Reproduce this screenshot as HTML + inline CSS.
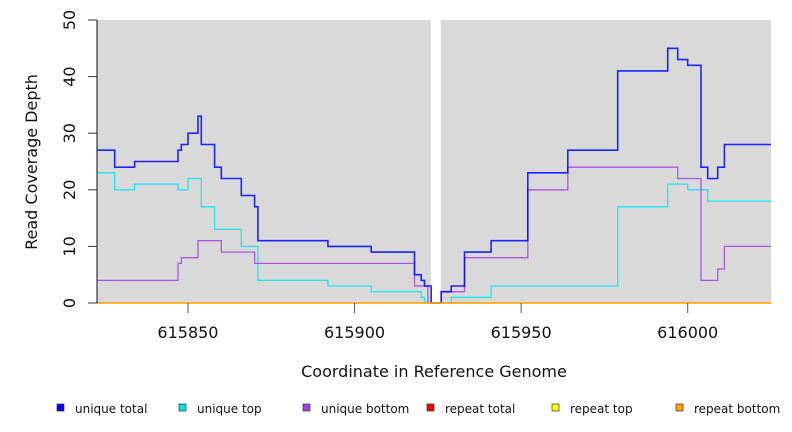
<!DOCTYPE html>
<html><head><meta charset="utf-8"><style>
body{margin:0;background:#fff;width:792px;height:432px;overflow:hidden}
svg{display:block;font-family:"DejaVu Sans","Liberation Sans",sans-serif}
</style></head><body>
<svg id="chart" width="792" height="432"></svg>
<script>
const xTicks=[615850,615900,615950,616000];
const yTicks=[0,10,20,30,40,50];
const gapRange=[615922.9,615925.9];
const seriesNames=["unique total","unique top","unique bottom","repeat total","repeat top","repeat bottom"];
const seriesColors=["#0000ff","#00e5ee","#a040e0","#ff0000","#ffff00","#ffa500"];
// step series: [start coordinate, value]
const uniqueTotal=[[615822.7,27],[615828,24],[615834,25],[615847,27],[615848,28],[615850,30],[615853,33],[615854,28],[615858,24],[615860,22],[615866,19],[615870,17],[615871,11],[615892,10],[615905,9],[615918,5],[615920,4],[615921,3],[615923,0],[615926,2],[615929,3],[615933,9],[615941,11],[615952,23],[615964,27],[615979,41],[615994,45],[615997,43],[616000,42],[616004,24],[616006,22],[616009,24],[616011,28]];
const uniqueTop=[[615822.7,23],[615828,20],[615834,21],[615847,20],[615850,22],[615854,17],[615858,13],[615866,10],[615871,4],[615892,3],[615905,2],[615920,1],[615921,0],[615929,1],[615941,3],[615979,17],[615994,21],[616000,20],[616006,18]];
const uniqueBottom=[[615822.7,4],[615847,7],[615848,8],[615853,11],[615860,9],[615870,7],[615918,3],[615922,0],[615926,2],[615933,8],[615952,20],[615964,24],[615997,22],[616004,4],[616009,6],[616011,10]];
const repeatTotal=[[615822.7,0]];
const repeatTop=[[615822.7,0]];
const repeatBottom=[[615822.7,0]];
const xMin=615822.7,xMax=616025;
const L=97,R=771,T=20,B=303;
const X=v=>L+(v-xMin)/(xMax-xMin)*(R-L);
const Y=v=>B-v/50*(B-T);
const svg=document.getElementById('chart');
const NS='http://www.w3.org/2000/svg';
function mk(t,a,p){const e=document.createElementNS(NS,t);for(const k in a)e.setAttribute(k,a[k]);(p||svg).appendChild(e);return e;}
let r=mk('rect',{x:L,y:T,width:X(gapRange[0])-L,height:B-T,fill:'#d9d9d9'});


r=mk('rect',{x:X(gapRange[1]),y:T,width:R-X(gapRange[1]),height:B-T,fill:'#d9d9d9'});


const all=[uniqueTotal,uniqueTop,uniqueBottom,repeatTotal,repeatTop,repeatBottom];
const order=[1,2,0,3,4,5];
order.forEach(i=>{const s=all[i];let d='';
 s.forEach((p,j)=>{const x0=X(p[0]),x1=j+1<s.length?X(s[j+1][0]):R;const y=Y(p[1]);
  d+=(j===0?'M':'L')+x0.toFixed(1)+','+y.toFixed(1)+'L'+x1.toFixed(1)+','+y.toFixed(1);});
 const pth=mk('path',{d:d,fill:'none',stroke:seriesColors[i],'stroke-width':i===0?1.6:1.3,opacity:i<3?0.85:1});
 
 
});
let ax=mk('line',{x1:L,y1:T,x2:L,y2:B,stroke:'#333','stroke-width':1.2});


yTicks.forEach(v=>{const y=Y(v);mk('line',{x1:88,y1:y,x2:L,y2:y,stroke:'#333'});
 const t=mk('text',{x:0,y:0,transform:`translate(75,${y}) rotate(-90)`,'text-anchor':'middle','font-size':16,fill:'#111'});t.textContent=v;
 
 });
xTicks.forEach(v=>{const x=X(v);mk('line',{x1:x,y1:B,x2:x,y2:313,stroke:'#555'});
 const t=mk('text',{x:x,y:338,'text-anchor':'middle','font-size':16,fill:'#111'});t.textContent=v;
 
 });
let yt=mk('text',{transform:'translate(37,162) rotate(-90)','text-anchor':'middle','font-size':16,fill:'#111'});yt.textContent='Read Coverage Depth';


let xt=mk('text',{x:434,y:377,'text-anchor':'middle','font-size':16,fill:'#111'});xt.textContent='Coordinate in Reference Genome';


const legX=[57,179,303,427,552,676];
seriesNames.forEach((n,i)=>{const g=mk('g',{});
 
 
 mk('rect',{x:legX[i],y:404,width:7,height:7,fill:seriesColors[i],stroke:'#333','stroke-width':0.7},g);
 const t=mk('text',{x:legX[i]+18,y:413,'font-size':12,fill:'#111'},g);t.textContent=n;});
</script>
</body></html>
